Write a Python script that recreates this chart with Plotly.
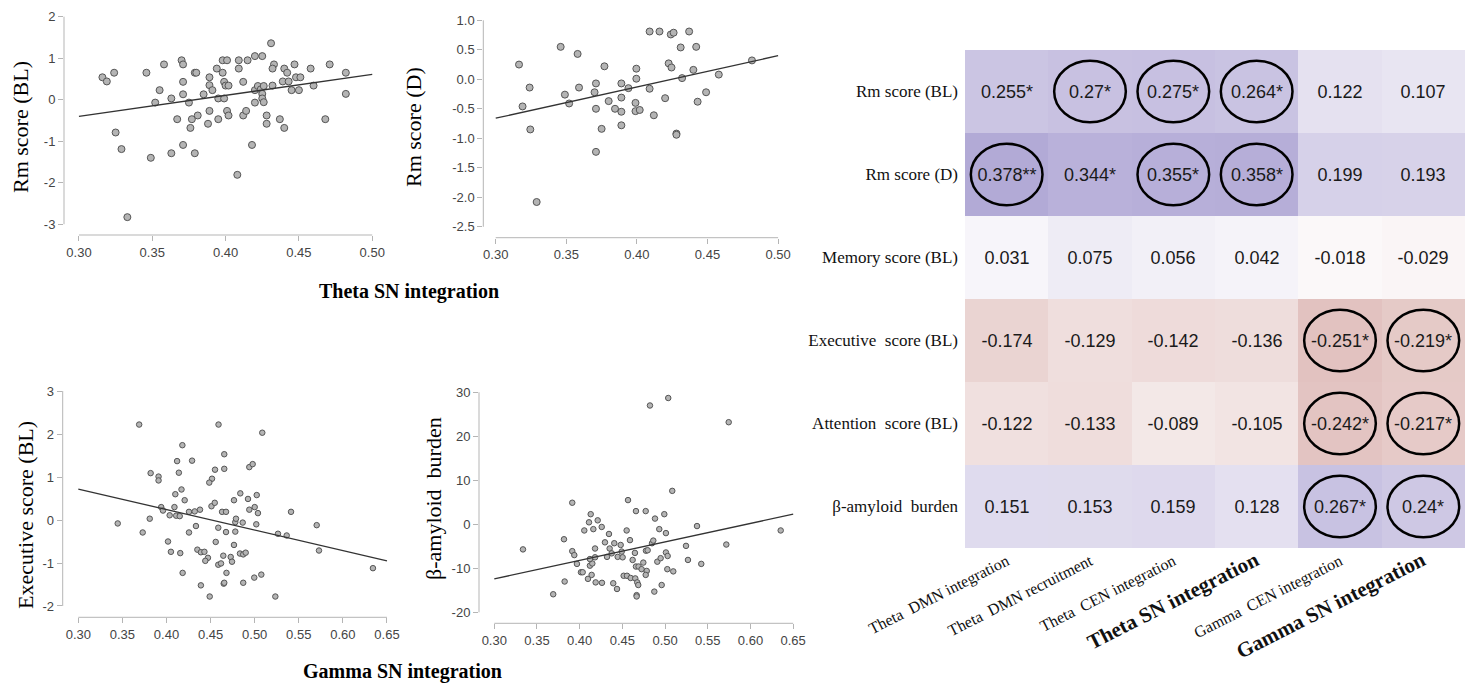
import plotly.graph_objects as go

W, H = 1465, 684

# ---------------- data ----------------
# Panel A: Theta SN integration vs Rm score (BL)
theta_sn_a = [0.316, 0.319, 0.324, 0.325, 0.329, 0.333, 0.346, 0.349, 0.352, 0.355,
              0.358, 0.363, 0.363, 0.367, 0.370, 0.371, 0.371, 0.371, 0.371, 0.375,
              0.376, 0.377, 0.379, 0.379, 0.380, 0.381, 0.385, 0.389, 0.389, 0.389,
              0.388, 0.391, 0.394, 0.395, 0.395, 0.398, 0.398, 0.399, 0.399, 0.400,
              0.401, 0.401, 0.402, 0.402, 0.408, 0.409, 0.409, 0.412, 0.412, 0.414,
              0.415, 0.418, 0.420, 0.420, 0.420, 0.422, 0.425, 0.424, 0.426, 0.425,
              0.425, 0.426, 0.428, 0.428, 0.431, 0.433, 0.432, 0.432, 0.437, 0.440,
              0.440, 0.442, 0.439, 0.443, 0.447, 0.445, 0.450, 0.448, 0.451, 0.458,
              0.460, 0.468, 0.471, 0.482, 0.482]
rm_bl = [0.54, 0.44, 0.65, -0.79, -1.19, -2.83, 0.65, -1.40, -0.07, 0.23,
         0.85, 0.03, -1.29, -0.47, 0.95, 0.85, 0.13, 0.43, -1.09, -0.07,
         -0.68, -0.47, 0.65, -1.29, 0.65, -0.38, 0.13, 0.54, -0.27, 0.35,
         -0.58, 0.23, 0.75, -0.47, 0.03, 0.95, 0.65, 0.43, 0.03, 0.34,
         0.95, -0.27, 0.34, -0.38, -1.81, 0.75, 0.95, 0.43, -0.38, -0.27,
         0.95, -1.09, 1.05, 0.23, -0.07, 0.33, 1.05, 0.25, 0.33, 0.14,
         0.03, -0.06, -0.38, -0.58, 1.36, 0.85, 0.75, 0.34, -0.47, -0.68,
         0.75, 0.65, 0.44, 0.44, 0.85, 0.23, 0.23, 0.54, 0.54, 0.75,
         0.34, -0.47, 0.85, 0.65, 0.14]
fit_a_x = [0.30, 0.50]
fit_a_y = [-0.40, 0.61]

# Panel B: Theta SN integration vs Rm score (D)
theta_sn_b = [0.3165, 0.324, 0.319, 0.3245, 0.329, 0.346, 0.358, 0.349, 0.352, 0.359,
              0.371, 0.370, 0.371, 0.375, 0.371, 0.377, 0.380, 0.3845, 0.389, 0.389,
              0.389, 0.389, 0.394, 0.399, 0.3996, 0.3996, 0.399, 0.402, 0.409, 0.416,
              0.424, 0.426, 0.437, 0.431, 0.442, 0.4225, 0.4245, 0.440, 0.432, 0.409,
              0.420, 0.412, 0.428, 0.428, 0.449, 0.443, 0.458, 0.4815]
rm_d = [0.25, -0.14, -0.46, -0.85, -2.08, 0.55, 0.43, -0.26, -0.41, -0.14,
        -0.07, -0.22, -0.50, -0.84, -1.23, 0.22, -0.37, -0.50, -0.07, -0.31,
        -0.55, -0.78, -0.15, -0.40, 0.18, 0.01, -0.54, -0.52, 0.81, 0.81,
        0.76, 0.79, 0.81, 0.54, 0.55, 0.27, 0.20, 0.16, 0.02, -0.16,
        -0.32, -0.61, -0.92, -0.94, -0.22, -0.38, 0.08, 0.32]
fit_b_x = [0.30, 0.50]
fit_b_y = [-0.66, 0.40]

# Panel C: Gamma SN integration vs Executive score (BL)
gamma_sn_c = [0.369, 0.459, 0.418, 0.4655, 0.412, 0.429, 0.382, 0.414, 0.391, 0.391,
              0.455, 0.4655, 0.4516, 0.4485, 0.417, 0.410, 0.4206, 0.394, 0.396, 0.409,
              0.4036, 0.411, 0.415, 0.4255, 0.432, 0.438, 0.451, 0.4547, 0.463, 0.4675,
              0.4765, 0.3447, 0.373, 0.381, 0.4334, 0.4255, 0.4587, 0.4675, 0.478, 0.478,
              0.4017, 0.405, 0.4156, 0.435, 0.439, 0.443, 0.447, 0.444, 0.4558, 0.4644,
              0.4587, 0.4618, 0.4728, 0.4743, 0.4765, 0.468, 0.4183, 0.439, 0.4649, 0.4655,
              0.449, 0.4788, 0.5086, 0.4939, 0.4977, 0.4837, 0.4924, 0.5023, 0.4939, 0.500,
              0.5037, 0.5412, 0.4864, 0.5018, 0.5264, 0.5363, 0.5703, 0.5729, 0.4833, 0.487,
              0.4898, 0.487, 0.4995, 0.5075, 0.5234, 0.6341]
exec_bl = [2.22, 2.22, 1.74, 1.53, 1.37, 1.38, 1.09, 1.10, 1.01, 0.92,
           1.17, 1.19, 0.96, 0.87, 0.71, 0.60, 0.46, 0.30, 0.22, 0.30,
           0.11, 0.10, 0.09, 0.19, 0.20, 0.24, 0.32, 0.40, 0.19, 0.19,
           0.46, -0.08, -0.29, 0.03, -0.14, -0.29, -0.18, -0.28, -0.05, -0.27,
           -0.50, -0.74, -0.77, -0.69, -0.75, -0.74, -0.88, -0.95, -0.51, -0.83,
           -1.04, -1.01, -0.86, -0.97, -0.58, -1.23, -1.23, -1.52, -1.48, -1.46,
           -1.78, 0.03, 2.03, 1.23, 1.30, 0.62, 0.49, 0.58, 0.24, 0.30,
           0.16, 0.19, -0.06, -0.10, -0.32, -0.36, -0.12, -0.71, -0.78, -0.80,
           -0.76, -1.46, -1.34, -1.27, -1.78, -1.12]
fit_c_x = [0.30, 0.65]
fit_c_y = [0.72, -0.95]

# Panel D: Gamma SN integration vs beta-amyloid burden
gamma_sn_d = [0.3336, 0.369, 0.3816, 0.3824, 0.3913, 0.3913, 0.3937, 0.3968, 0.4015, 0.4035,
              0.4054, 0.4097, 0.4109, 0.4129, 0.416, 0.4211, 0.4258, 0.412, 0.4148, 0.412,
              0.414, 0.418, 0.4187, 0.418, 0.4261, 0.4296, 0.432, 0.4343, 0.4351, 0.4375,
              0.4405, 0.4393, 0.4437, 0.4445, 0.448, 0.4492, 0.4503, 0.4515, 0.455, 0.4566,
              0.4554, 0.4589, 0.4597, 0.462, 0.4647, 0.4651, 0.4659, 0.4659, 0.469, 0.4674,
              0.4667, 0.4667, 0.4686, 0.4725, 0.4745, 0.4773, 0.4776, 0.4796, 0.4785, 0.4773,
              0.4823, 0.4847, 0.4862, 0.4874, 0.4882, 0.4909, 0.4932, 0.4948, 0.496, 0.4991,
              0.501, 0.501, 0.5026, 0.5037, 0.5084, 0.5745, 0.5374, 0.6354, 0.5245, 0.5717,
              0.503, 0.5268, 0.5424, 0.5096]
amyloid = [-5.7, -15.9, -3.4, -13.0, 4.9, -6.1, -7.0, -9.0, -10.9, -10.9,
           -1.4, -12.4, 0.45, 2.3, -1.1, 0.9, -0.6, -9.4, -8.9, -7.9,
           -11.5, -7.5, -13.2, -5.5, -13.3, -4.1, -7.4, -2.2, -5.5, -6.6,
           -4.3, -13.4, -14.7, -7.4, -4.7, -6.2, -7.5, -11.7, -1.4, 5.5,
           -11.7, -3.6, -12.2, -8.1, -6.5, -12.3, 3.0, -9.6, -9.6, -13.2,
           -16.1, -16.4, -13.8, -10.2, -8.7, 3.0, -6.0, -5.9, -10.6, -11.5,
           27.0, -4.3, -3.7, -15.3, 1.3, -8.5, -1.1, -7.7, -13.8, 2.3,
           -2.0, -6.4, -10.2, 28.7, 7.6, 23.2, -0.4, -1.4, -4.9, -4.6,
           -7.2, -8.1, -9.0, -10.7]
fit_d_x = [0.30, 0.65]
fit_d_y = [-12.4, 2.3]

# Correlation heatmap
row_labels = ["Rm score (BL)", "Rm score (D)", "Memory score (BL)",
              "Executive  score (BL)", "Attention  score (BL)", "β-amyloid  burden"]
col_labels = ["Theta  DMN integration", "Theta  DMN recruitment", "Theta  CEN integration",
              "Theta SN integration", "Gamma  CEN integration", "Gamma SN integration"]
col_bold = [False, False, False, True, False, True]
corr = [
    [0.255, 0.27, 0.275, 0.264, 0.122, 0.107],
    [0.378, 0.344, 0.355, 0.358, 0.199, 0.193],
    [0.031, 0.075, 0.056, 0.042, -0.018, -0.029],
    [-0.174, -0.129, -0.142, -0.136, -0.251, -0.219],
    [-0.122, -0.133, -0.089, -0.105, -0.242, -0.217],
    [0.151, 0.153, 0.159, 0.128, 0.267, 0.24],
]
stars = [
    ["*", "*", "*", "*", "", ""],
    ["**", "*", "*", "*", "", ""],
    ["", "", "", "", "", ""],
    ["", "", "", "", "*", "*"],
    ["", "", "", "", "*", "*"],
    ["", "", "", "", "*", "*"],
]
circled = [
    [0, 1, 1, 1, 0, 0],
    [1, 0, 1, 1, 0, 0],
    [0, 0, 0, 0, 0, 0],
    [0, 0, 0, 0, 1, 1],
    [0, 0, 0, 0, 1, 1],
    [0, 0, 0, 0, 1, 1],
]

# ---------------- layout helpers ----------------
def px_x(p):
    return p / W

def px_y(p):
    return 1 - p / H

SERIF = "Liberation Serif, Times New Roman, serif"
SANS = "Liberation Sans, Arial, sans-serif"
AXIS_GRAY = "#b5b5b5"

fig = go.Figure()

panels = [
    (theta_sn_a, rm_bl, fit_a_x, fit_a_y, 1, (64, 380), (12, 235), [0.2898, 0.5053], [-3.26, 2.113],
     [0.30, 0.35, 0.40, 0.45, 0.50], [-3, -2, -1, 0, 1, 2], "d", 7),
    (theta_sn_b, rm_d, fit_b_x, fit_b_y, 2, (483.3, 785), (12, 237.7), [0.2912, 0.5049], [-2.685, 1.1407],
     [0.30, 0.35, 0.40, 0.45, 0.50], [-2.5, -2.0, -1.5, -1.0, -0.5, 0.0, 0.5, 1.0], ".1f", 7),
    (gamma_sn_c, exec_bl, fit_c_x, fit_c_y, 3, (62.7, 395), (385, 617.3), [0.2823, 0.6591], [-2.263, 3.14],
     [0.30, 0.35, 0.40, 0.45, 0.50, 0.55, 0.60, 0.65], [-2, -1, 0, 1, 2, 3], "d", 5.5),
    (gamma_sn_d, amyloid, fit_d_x, fit_d_y, 4, (479, 800), (386, 623.3), [0.2821, 0.658], [-22.5, 31.43],
     [0.30, 0.35, 0.40, 0.45, 0.50, 0.55, 0.60, 0.65], [-20, -10, 0, 10, 20, 30], "d", 5.5),
]

layout = dict(
    template="none",
    width=W, height=H, margin=dict(l=0, r=0, t=0, b=0, pad=0, autoexpand=False),
    paper_bgcolor="white", plot_bgcolor="white", showlegend=False,
)
shapes = []

for (xs, ys, fx, fy, k, xd, yd, xr, yr, xt, yt, yfmt, msize) in panels:
    xa = "x" if k == 1 else f"x{k}"
    ya = "y" if k == 1 else f"y{k}"
    fig.add_trace(go.Scatter(
        x=xs, y=ys, mode="markers", xaxis=xa, yaxis=ya,
        marker=dict(size=msize, color="#b4b4b4", line=dict(color="#555555", width=1)),
        hoverinfo="skip"))
    fig.add_trace(go.Scatter(
        x=fx, y=fy, mode="lines", xaxis=xa, yaxis=ya,
        line=dict(color="#333333", width=1.3), hoverinfo="skip"))
    xkey = "xaxis" if k == 1 else f"xaxis{k}"
    ykey = "yaxis" if k == 1 else f"yaxis{k}"
    layout[xkey] = dict(
        domain=[px_x(xd[0]), px_x(xd[1])], anchor=ya, range=xr, automargin=False,
        showgrid=False, zeroline=False, showline=False,
        ticks="outside", ticklen=5, tickwidth=1, tickcolor=AXIS_GRAY,
        tickvals=xt, ticktext=[f"{v:.2f}" for v in xt],
        tickfont=dict(family=SANS, size=13, color="#444444"))
    if yfmt == "d":
        ytt = [str(int(v)) for v in yt]
    else:
        ytt = [f"{v:.1f}" for v in yt]
    layout[ykey] = dict(
        domain=[px_y(yd[1]), px_y(yd[0])], anchor=xa, range=yr, automargin=False,
        showgrid=False, zeroline=False, showline=False,
        ticks="outside", ticklen=5, tickwidth=1, tickcolor=AXIS_GRAY,
        tickvals=yt, ticktext=ytt,
        tickfont=dict(family=SANS, size=13, color="#444444"))
    # detached R-style axis lines spanning the tick range
    shapes.append(dict(type="line", xref=xa, yref=f"{ya} domain",
                       x0=xt[0], x1=xt[-1], y0=0, y1=0,
                       line=dict(color=AXIS_GRAY, width=1)))
    shapes.append(dict(type="line", xref=f"{xa} domain", yref=ya,
                       x0=0, x1=0, y0=yt[0], y1=yt[-1],
                       line=dict(color=AXIS_GRAY, width=1)))

# ---------------- heatmap ----------------
cell_text = [[f"{v:g}{s}" for v, s in zip(rv, rs)] for rv, rs in zip(corr, stars)]
ncol = len(col_labels)
nrow = len(row_labels)
fig.add_trace(go.Heatmap(
    z=corr, x=list(range(ncol)), y=list(range(nrow)),
    text=cell_text, texttemplate="%{text}",
    textfont=dict(family=SANS, size=18, color="#1a1a1a"),
    colorscale=[[0, "rgb(210,160,155)"], [0.5, "rgb(253,252,253)"], [1, "rgb(174,165,212)"]],
    zmin=-0.4, zmax=0.4, showscale=False, xaxis="x5", yaxis="y5",
    hoverinfo="skip", xgap=0, ygap=0))

tick_cols = []
for lbl, b in zip(col_labels, col_bold):
    if b:
        tick_cols.append(f"<b><span style='font-size:21px'>{lbl}</span></b>")
    else:
        tick_cols.append(lbl)

layout["xaxis5"] = dict(
    domain=[px_x(965), 1.0], anchor="y5", range=[-0.5, ncol - 0.5], automargin=False,
    showgrid=False, zeroline=False, showline=False, ticks="",
    tickvals=list(range(ncol)), ticktext=tick_cols, tickangle=-27,
    tickfont=dict(family=SERIF, size=16, color="#111111"))
layout["yaxis5"] = dict(
    domain=[px_y(548), px_y(50)], anchor="x5", range=[nrow - 0.5, -0.5], automargin=False,
    showgrid=False, zeroline=False, showline=False, ticks="",
    tickvals=list(range(nrow)), ticktext=row_labels, ticklabelstandoff=6,
    tickfont=dict(family=SERIF, size=17, color="#111111"))

for i in range(nrow):
    for j in range(ncol):
        if circled[i][j]:
            shapes.append(dict(type="circle", xref="x5", yref="y5",
                               x0=j - 0.43, x1=j + 0.43, y0=i - 0.37, y1=i + 0.37,
                               line=dict(color="black", width=2.5)))

layout["shapes"] = shapes

# ---------------- axis titles ----------------
def ann(text, xp, yp, angle=0, size=22, bold=False):
    t = f"<b>{text}</b>" if bold else text
    return dict(text=t, x=px_x(xp), y=px_y(yp), xref="paper", yref="paper",
                showarrow=False, textangle=angle, xanchor="center", yanchor="middle",
                font=dict(family=SERIF, size=size, color="black"))

layout["annotations"] = [
    ann("Rm score (BL)", 21, 127, -90),
    ann("Rm score (D)", 414, 127, -90),
    ann("Theta SN integration", 409, 291, 0, 20, True),
    ann("Executive score (BL)", 25, 515, -90),
    ann("β-amyloid  burden", 433, 499, -90),
    ann("Gamma SN integration", 402, 671, 0, 20, True),
]

fig.update_layout(**layout)
fig.write_html("out.html",
               config={"displayModeBar": False},
               post_script="document.body.style.margin='0px';document.body.style.padding='0px';")
